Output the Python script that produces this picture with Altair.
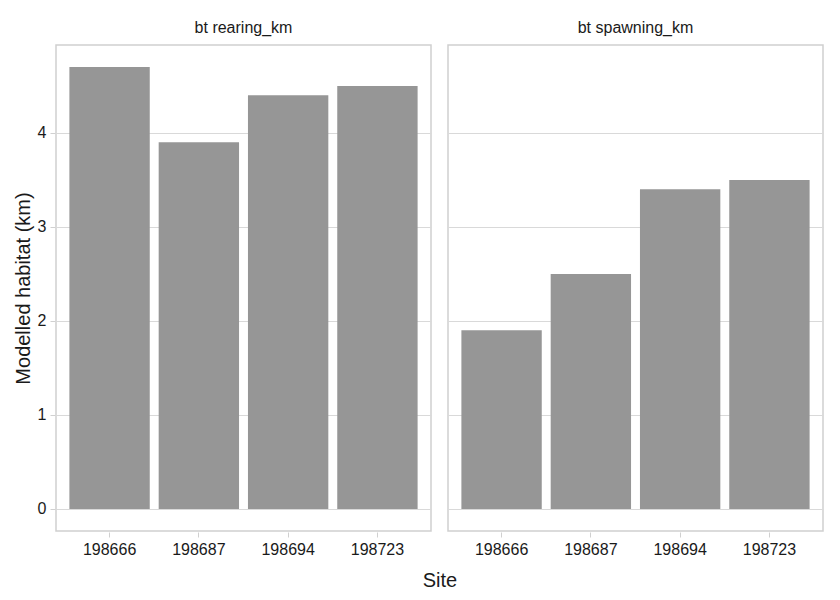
import altair as alt
import pandas as pd

sites = ["198666", "198687", "198694", "198723"]
rearing_km = [4.7, 3.9, 4.4, 4.5]
spawning_km = [1.9, 2.5, 3.4, 3.5]

df = pd.DataFrame(
    {
        "site": sites * 2,
        "value": rearing_km + spawning_km,
        "habitat": ["bt rearing_km"] * 4 + ["bt spawning_km"] * 4,
    }
)

font = "Liberation Sans"

chart = (
    alt.Chart(df)
    .mark_bar(color="#969696")
    .encode(
        x=alt.X(
            "site:N",
            title=None,
            scale=alt.Scale(paddingInner=0.1, paddingOuter=0.15),
            axis=alt.Axis(labelAngle=0, domain=False, tickColor="#d0d0d0", tickSize=5,
                          labelPadding=4),
        ),
        y=alt.Y(
            "value:Q",
            title="Modelled habitat (km)",
            scale=alt.Scale(domain=[-0.235, 4.935], nice=False, zero=False),
            axis=alt.Axis(values=[0, 1, 2, 3, 4], domain=False, tickColor="#d0d0d0",
                          tickSize=5, gridColor="#d9d9d9", labelPadding=4),
        ),
    )
    .properties(width=375, height=486)
    .facet(
        column=alt.Column(
            "habitat:N",
            title="Site",
            header=alt.Header(labelFont=font, labelFontSize=16, labelColor="#1a1a1a",
                              labelPadding=8, labelOrient="top",
                              titleOrient="bottom", titleFont=font, titleFontSize=20,
                              titleFontWeight="normal", titleColor="#1a1a1a",
                              titlePadding=4),
        ),
        spacing=15,
    )
    .properties(padding={"top": 12, "left": 5, "right": 5, "bottom": 5})
    .configure_view(stroke="#d0d0d0", strokeWidth=1.5)
    .configure_axis(
        labelFont=font,
        labelFontSize=16,
        labelColor="#1a1a1a",
        titleFont=font,
        titleFontSize=20,
        titleFontWeight="normal",
        titleColor="#1a1a1a",
    )
    .configure_axisX(grid=False)
)

chart.save("out.html", embed_options={"renderer": "svg", "actions": False})
